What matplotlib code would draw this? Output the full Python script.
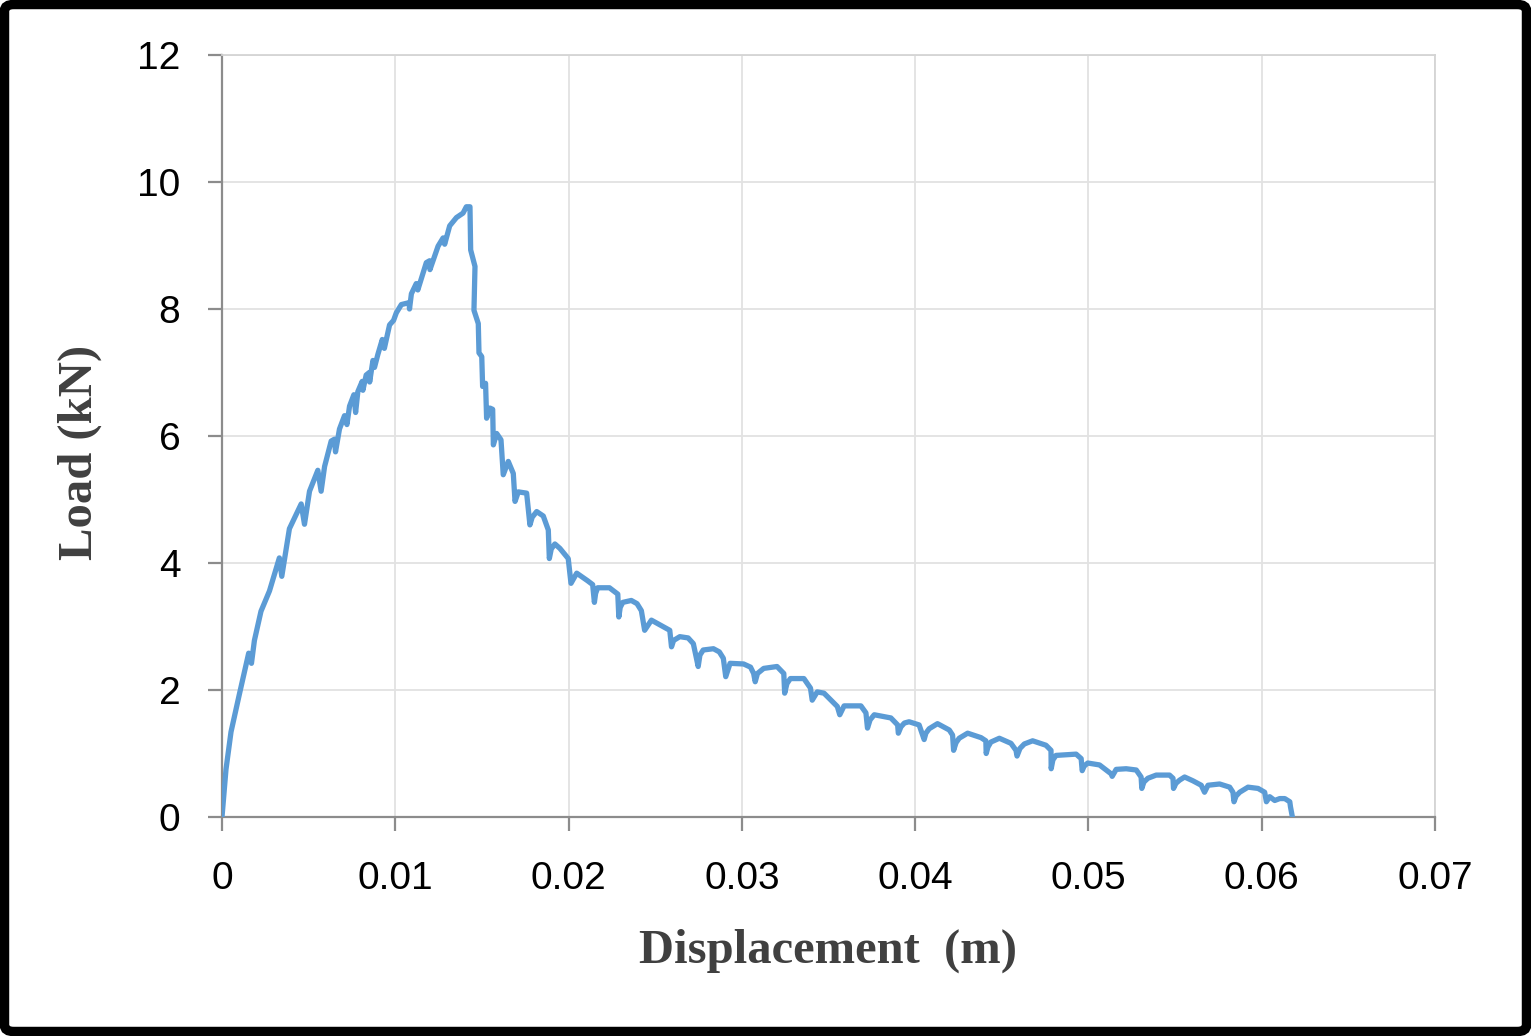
import matplotlib
matplotlib.use("Agg")
import matplotlib.pyplot as plt
from matplotlib.patches import FancyBboxPatch

# Displacement (m) and Load (kN)
disp = [0.0, 0.00023, 0.00052, 0.0010, 0.00154, 0.0017, 0.00187, 0.00225, 0.00274,
        0.00331, 0.00345, 0.00389, 0.00457, 0.00476, 0.00505, 0.00553, 0.00572,
        0.00592, 0.00630, 0.00649, 0.00655, 0.00678, 0.00707, 0.00721, 0.00736,
        0.00761, 0.00771, 0.00784, 0.00809, 0.00813, 0.00832, 0.00850, 0.00852,
        0.00871, 0.00880, 0.00900, 0.00925, 0.00937, 0.00967, 0.00990, 0.01006,
        0.01035, 0.01080, 0.01082, 0.01093, 0.01121, 0.01130, 0.01160, 0.01179,
        0.01198, 0.01200, 0.01247, 0.01276, 0.01285, 0.01314, 0.01353, 0.01391,
        0.01410, 0.01431,
        0.01435, 0.01460, 0.01454, 0.01479, 0.01483, 0.01499, 0.01504, 0.01521,
        0.01527, 0.01546, 0.01562, 0.01566, 0.01585, 0.01610, 0.01623, 0.01652,
        0.01681, 0.01691, 0.01710, 0.01758, 0.01777, 0.01790, 0.01816, 0.01854, 0.01883,
        0.01889, 0.01900, 0.01921, 0.01950, 0.01998, 0.02014, 0.02047, 0.02110, 0.02139,
        0.02149, 0.02156, 0.02168, 0.02236, 0.02284, 0.02290, 0.02298, 0.02313, 0.02362,
        0.02395, 0.02420, 0.02439, 0.02478, 0.02584, 0.02594, 0.02606, 0.02642,
        0.02690, 0.02720, 0.02748, 0.02758, 0.02777, 0.02836, 0.02870, 0.02893,
        0.02907, 0.02932, 0.03010, 0.03050, 0.03068, 0.03077, 0.03090, 0.03126,
        0.03203, 0.03242, 0.03247, 0.03260, 0.03280, 0.03358, 0.03396, 0.03406,
        0.03435, 0.03474, 0.03551, 0.03565, 0.03590, 0.03687, 0.03716, 0.03725,
        0.03740, 0.03764, 0.03860, 0.03899, 0.03903, 0.03918, 0.03938, 0.03965,
        0.04023, 0.04052, 0.04062, 0.04081, 0.04129, 0.04197, 0.04216, 0.04222,
        0.04236, 0.04254, 0.04303, 0.04380, 0.04408, 0.04410, 0.04420, 0.04437,
        0.04486, 0.04553, 0.04582, 0.04588, 0.04605, 0.04630, 0.04678, 0.04755,
        0.04784, 0.04785, 0.04795, 0.04813, 0.04929, 0.04958, 0.04964, 0.04975,
        0.04996, 0.05064, 0.05131, 0.05137, 0.05160, 0.05218, 0.05276, 0.05304,
        0.05308, 0.05320, 0.05343, 0.05391, 0.05468, 0.05488, 0.05491, 0.05505,
        0.05526, 0.05555, 0.05603, 0.05651, 0.05670, 0.05690, 0.05757, 0.05815,
        0.05834, 0.05840, 0.05852, 0.05873, 0.05921, 0.05979, 0.06017, 0.06027,
        0.06046, 0.06075, 0.06104, 0.06133, 0.06162, 0.06166, 0.06177]
load = [0.0, 0.75, 1.34, 1.93, 2.58, 2.42, 2.78, 3.24, 3.56,
        4.08, 3.79, 4.54, 4.93, 4.61, 5.13, 5.46, 5.13,
        5.52, 5.92, 5.95, 5.75, 6.11, 6.32, 6.18, 6.47,
        6.65, 6.37, 6.70, 6.86, 6.72, 6.96, 7.00, 6.85,
        7.19, 7.08, 7.29, 7.52, 7.38, 7.75, 7.82, 7.94,
        8.07, 8.10, 8.00, 8.24, 8.40, 8.30, 8.56, 8.73,
        8.76, 8.62, 8.99, 9.12, 9.02, 9.31, 9.44, 9.51,
        9.61, 9.61,
        8.93, 8.67, 7.98, 7.77, 7.31, 7.25, 6.78, 6.83,
        6.28, 6.44, 6.42, 5.86, 6.04, 5.94, 5.39, 5.60,
        5.41, 4.97, 5.12, 5.10, 4.60, 4.72, 4.81, 4.74, 4.52,
        4.07, 4.22, 4.30, 4.23, 4.07, 3.68, 3.84, 3.72, 3.66,
        3.38, 3.52, 3.61, 3.61, 3.51, 3.15, 3.30, 3.38, 3.41,
        3.36, 3.25, 2.94, 3.10, 2.94, 2.68, 2.78, 2.84,
        2.82, 2.73, 2.37, 2.55, 2.63, 2.65, 2.60, 2.50,
        2.21, 2.42, 2.41, 2.36, 2.26, 2.13, 2.26, 2.34,
        2.37, 2.26, 1.95, 2.10, 2.18, 2.18, 2.03, 1.84,
        1.97, 1.95, 1.74, 1.61, 1.75, 1.75, 1.64, 1.40,
        1.53, 1.61, 1.56, 1.45, 1.32, 1.42, 1.48, 1.50,
        1.45, 1.22, 1.32, 1.39, 1.47, 1.37, 1.29, 1.05,
        1.17, 1.24, 1.32, 1.25, 1.20, 1.00, 1.10, 1.18,
        1.24, 1.16, 1.05, 0.96, 1.08, 1.15, 1.20, 1.13,
        1.05, 0.76, 0.90, 0.97, 0.99, 0.92, 0.73, 0.80,
        0.85, 0.82, 0.68, 0.64, 0.75, 0.76, 0.74, 0.63,
        0.45, 0.55, 0.61, 0.66, 0.66, 0.61, 0.45, 0.53,
        0.58, 0.63, 0.57, 0.50, 0.39, 0.50, 0.52, 0.47,
        0.39, 0.24, 0.33, 0.39, 0.47, 0.45, 0.39, 0.24,
        0.32, 0.26, 0.29, 0.29, 0.24, 0.16, 0.0]

x_ticks = [0, 0.01, 0.02, 0.03, 0.04, 0.05, 0.06, 0.07]
x_tick_labels = ["0", "0.01", "0.02", "0.03", "0.04", "0.05", "0.06", "0.07"]
y_ticks = [0, 2, 4, 6, 8, 10, 12]
y_tick_labels = ["0", "2", "4", "6", "8", "10", "12"]
x_label = "Displacement  (m)"
y_label = "Load (kN)"

W, H = 1531, 1036
fig = plt.figure(figsize=(W / 100, H / 100), dpi=100)
ax = fig.add_axes([222 / W, 1 - 817 / H, (1435 - 222) / W, (817 - 55) / H])

ax.plot(disp, load, color="#5B9BD5", linewidth=3.8, solid_joinstyle="round",
        solid_capstyle="round", zorder=3)

ax.set_xlim(0, 0.07)
ax.set_ylim(0, 12)
ax.set_xticks(x_ticks)
ax.set_xticklabels(x_tick_labels)
ax.set_yticks(y_ticks)
ax.set_yticklabels(y_tick_labels)

ax.grid(True, color="#E2E2E2", linewidth=1.3, zorder=0)
ax.set_axisbelow(True)
for s in ["top", "right"]:
    ax.spines[s].set_color("#D4D4D4")
    ax.spines[s].set_linewidth(1.3)
for s in ["left", "bottom"]:
    ax.spines[s].set_color("#8C8C8C")
    ax.spines[s].set_linewidth(1.6)

ax.tick_params(axis="both", direction="out", length=10, width=1.6,
               color="#8C8C8C", labelcolor="black")
ax.tick_params(axis="x", pad=22)
ax.tick_params(axis="y", pad=20)
for lab in ax.get_xticklabels() + ax.get_yticklabels():
    lab.set_fontfamily(["Liberation Sans", "DejaVu Sans"])
    lab.set_fontsize(28)

label_font = dict(family=["Liberation Serif", "DejaVu Serif"], weight="bold",
                  size=35, color="#404040")
fig.text(828 / W, 1 - 951 / H, x_label, ha="center", va="center", **label_font)
fig.text(80 / W, 1 - 452 / H, y_label, ha="center", va="center",
         rotation=90, **label_font)

border = FancyBboxPatch((4.5 / W, 4.5 / H), 1 - 9 / W, 1 - 9 / H,
                        boxstyle="round,pad=0,rounding_size=0.006",
                        transform=fig.transFigure, fill=False,
                        edgecolor="black", linewidth=6.8, zorder=10)
fig.patches.append(border)

fig.savefig("out.png", dpi=100)
